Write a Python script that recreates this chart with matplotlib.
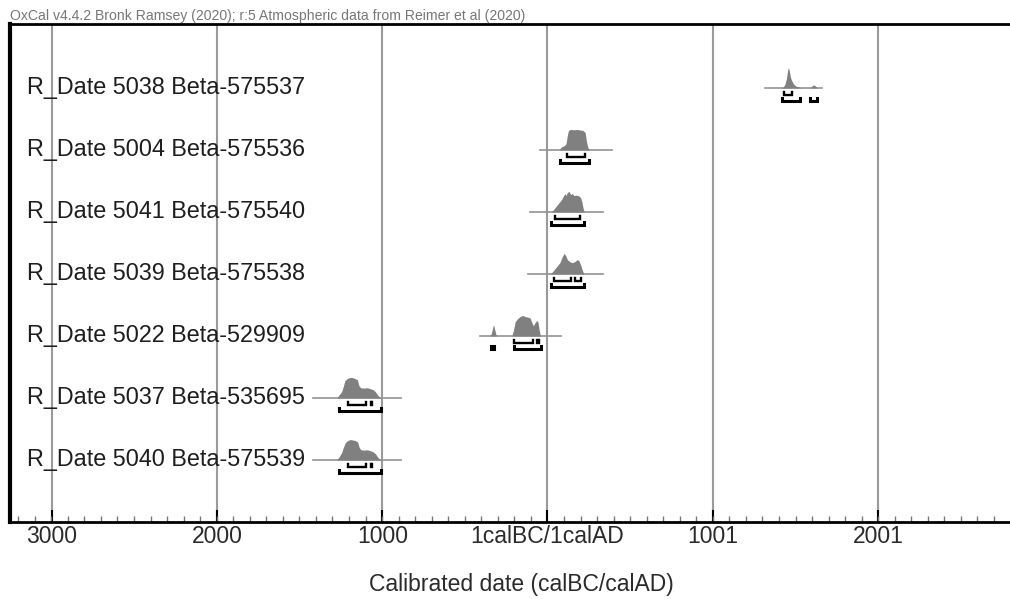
import matplotlib
matplotlib.use("Agg")
import matplotlib.pyplot as plt
from matplotlib.ticker import MultipleLocator

plt.rcParams['font.family'] = ['Liberation Sans', 'DejaVu Sans']

# sample names, top to bottom
labels = [
    "R_Date 5038 Beta-575537",
    "R_Date 5004 Beta-575536",
    "R_Date 5041 Beta-575540",
    "R_Date 5039 Beta-575538",
    "R_Date 5022 Beta-529909",
    "R_Date 5037 Beta-535695",
    "R_Date 5040 Beta-575539",
]

# extent of the grey baseline under each distribution (calBC/calAD, 1calBC = 0)
spans = [(1317, 1662), (-48, 393), (-103, 338), (-115, 338),
         (-405, 79), (-1420, -888), (-1420, -888)]

# calibrated probability, relative heights
dist_x = [
    [1410, 1425, 1435, 1445, 1452, 1457, 1463, 1470, 1480, 1492, 1505, 1520,
     1535, 1590, 1600, 1612, 1624, 1635],
    [70, 85, 100, 112, 120, 127, 140, 160, 180, 200, 215, 228, 236, 245, 255],
    [25, 40, 55, 70, 85, 95, 105, 112, 120, 130, 140, 150, 160, 175, 190, 200,
     208, 215, 222],
    [15, 30, 45, 60, 75, 90, 100, 110, 120, 135, 150, 165, 180, 190, 200, 210,
     220],
    [-350, -340, -330, -326, -320, -312, -305, -215, -205, -195, -180, -165,
     -150, -135, -120, -105, -92, -85, -75, -65, -58, -50, -44, -38],
    [-1275, -1260, -1245, -1235, -1225, -1210, -1195, -1180, -1165, -1150,
     -1140, -1130, -1110, -1090, -1070, -1055, -1040, -1025, -1008],
    [-1275, -1260, -1245, -1235, -1222, -1208, -1192, -1178, -1162, -1148,
     -1138, -1128, -1110, -1090, -1070, -1055, -1040, -1025, -1008],
]
dist_p = [
    [0, 0.04, 0.15, 0.45, 0.85, 1.0, 0.8, 0.5, 0.3, 0.15, 0.08, 0.04,
     0, 0, 0.1, 0.15, 0.06, 0],
    [0, 0.15, 0.2, 0.3, 0.7, 0.95, 1.0, 0.98, 1.0, 0.97, 0.95, 0.85, 0.4, 0.1, 0],
    [0, 0.15, 0.3, 0.45, 0.6, 0.75, 0.9, 0.8, 0.95, 1.0, 0.85, 0.9, 0.8, 0.82,
     0.78, 0.7, 0.5, 0.2, 0],
    [0, 0.1, 0.25, 0.4, 0.55, 0.85, 1.0, 0.9, 0.7, 0.6, 0.55, 0.6, 0.7, 0.65,
     0.45, 0.2, 0],
    [0, 0.1, 0.45, 0.55, 0.35, 0.08, 0, 0, 0.3, 0.7, 0.85, 0.95, 1.0, 0.95,
     0.92, 0.88, 0.6, 0.5, 0.65, 0.75, 0.7, 0.3, 0.05, 0],
    [0, 0.15, 0.3, 0.55, 0.85, 0.95, 1.0, 1.0, 0.95, 0.9, 0.6, 0.5, 0.48, 0.5,
     0.45, 0.4, 0.3, 0.12, 0],
    [0, 0.15, 0.35, 0.6, 0.85, 0.95, 1.0, 0.98, 0.95, 0.88, 0.6, 0.5, 0.48,
     0.5, 0.45, 0.4, 0.3, 0.12, 0],
]

# highest posterior density ranges
hpd68 = [
    [(1433, 1481)],
    [(121, 230)],
    [(48, 199)],
    [(40, 140), (165, 200)],
    [(-205, -85), (-66, -54)],
    [(-1208, -1100), (-1068, -1058)],
    [(-1208, -1100), (-1068, -1058)],
]
hpd95 = [
    [(1421, 1530), (1590, 1632)],
    [(73, 254)],
    [(24, 218)],
    [(24, 218)],
    [(-340, -322), (-205, -42)],
    [(-1263, -1009)],
    [(-1263, -1009)],
]

tick_pos = [-2999, -1999, -999, 0, 1001, 2001]
tick_lab = ["3000", "2000", "1000", "1calBC/1calAD", "1001", "2001"]

fig = plt.figure(figsize=(10.10, 5.99), dpi=100)
ax = fig.add_axes([10 / 1010, 1 - 522 / 599, 1022 / 1010, 498 / 599])
ax.set_xlim(-3250, 2930)
ax.set_ylim(len(labels) + 1, -0.03)

for t in tick_pos:
    ax.axvline(t, color='#9a9a9a', lw=1.5, zorder=0)

peak = 0.33
for i, name in enumerate(labels):
    y = i + 1
    ax.text(-3145, y, name, fontsize=16.8, va='center', ha='left',
            color='#1e1e1e', zorder=3)
    ax.plot(spans[i], [y, y], color='#939393', lw=1.2, zorder=1)
    ax.fill_between(dist_x[i], [y - p * peak for p in dist_p[i]], y,
                    color='#808080', lw=0, zorder=2)
    for off, ranges, lw in [(0.11, hpd68[i], 1.7), (0.21, hpd95[i], 2.2)]:
        for a, b in ranges:
            ax.plot([a, a, b, b], [y + off - 0.045, y + off, y + off, y + off - 0.045],
                    color='black', lw=lw, solid_joinstyle='miter', zorder=3)

ax.set_yticks([])
ax.set_xticks(tick_pos)
ax.set_xticklabels(tick_lab, fontsize=16.5, color='#2a2a2a')
ax.xaxis.set_minor_locator(MultipleLocator(100))
ax.tick_params(axis='x', which='major', direction='in', length=9, width=1.5,
               pad=2, color='black')
ax.tick_params(axis='x', which='minor', direction='in', length=4, width=1,
               color='#777777')
ax.set_xlabel("Calibrated date (calBC/calAD)", fontsize=16.5, color='#2a2a2a',
              labelpad=18)

ax.spines['right'].set_visible(False)
ax.spines['left'].set_linewidth(3)
ax.spines['top'].set_linewidth(2)
ax.spines['bottom'].set_linewidth(2)

fig.text(10 / 1010, 1 - 20 / 599,
         "OxCal v4.4.2 Bronk Ramsey (2020); r:5 Atmospheric data from Reimer et al (2020)",
         fontsize=10.1, color='#777777', va='baseline', ha='left')

fig.savefig("out.png", dpi=100)
